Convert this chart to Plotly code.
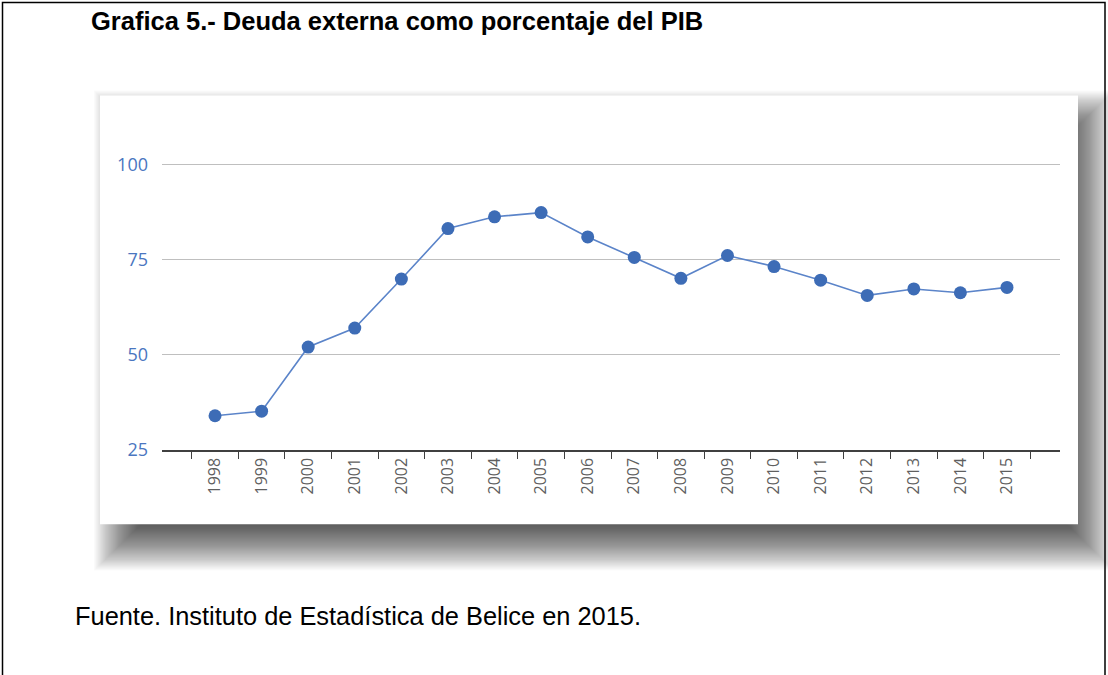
import plotly.graph_objects as go

years = ["1998", "1999", "2000", "2001", "2002", "2003", "2004", "2005", "2006",
         "2007", "2008", "2009", "2010", "2011", "2012", "2013", "2014", "2015"]
deuda_pib = [33.9, 35.1, 52.0, 57.0, 69.9, 83.2, 86.3, 87.4, 81.0,
             75.6, 70.1, 76.1, 73.2, 69.6, 65.6, 67.3, 66.3, 67.7]
y_ticks = [25, 50, 75, 100]

W, H = 1108, 675


def px(x):
    return x / W


def py(y):
    return 1 - y / H


fig = go.Figure()
fig.add_trace(go.Scatter(
    x=years, y=deuda_pib, mode="lines+markers",
    line=dict(color="#5b84c9", width=1.6),
    marker=dict(color="#3d6cb6", size=13),
    hoverinfo="x+y", showlegend=False,
))

shapes = []
# soft shadow (layered rectangles, smoother ramp)
n, b = 60, 32.0
sx0, sy0, sx1, sy1 = 126, 124, 1082, 548
for i in range(n):
    e = -b + 2 * b * i / (n - 1)
    shapes.append(dict(type="rect", xref="paper", yref="paper",
                       x0=px(sx0 - e), x1=px(sx1 + e),
                       y0=py(sy1 + e), y1=py(sy0 - e),
                       line=dict(width=0), fillcolor="rgba(0,0,0,0.019)",
                       layer="below"))
# white panel
shapes.append(dict(type="rect", xref="paper", yref="paper",
                   x0=px(100), x1=px(1078), y0=py(533), y1=py(97),
                   line=dict(width=0), fillcolor="white", layer="below"))
# outer frame
shapes.append(dict(type="rect", xref="paper", yref="paper",
                   x0=px(2.5), x1=px(1105), y0=py(700), y1=py(2.5),
                   line=dict(color="black", width=1.5), fillcolor="rgba(0,0,0,0)",
                   layer="below"))

fig.update_layout(
    width=W, height=H,
    margin=dict(l=0, r=0, t=0, b=0),
    paper_bgcolor="white",
    plot_bgcolor="rgba(0,0,0,0)",
    shapes=shapes,
    xaxis=dict(
        domain=[px(162), px(1060)],
        type="category",
        tickangle=-90,
        tickson="boundaries",
        ticks="outside", ticklen=8, tickcolor="#404040", tickwidth=1.2,
        showline=True, linecolor="#404040", linewidth=1.8,
        showgrid=False, zeroline=False,
        tickfont=dict(family="Open Sans", size=16, color="#5f5f5f"),
        fixedrange=True,
    ),
    yaxis=dict(
        domain=[py(457), py(128.9)],
        range=[25, 110],
        tickvals=y_ticks,
        showgrid=True, gridcolor="#bfbfbf", gridwidth=1.4,
        zeroline=False, showline=False, ticks="",
        ticklabelstandoff=13,
        tickfont=dict(family="Open Sans", size=18, color="#4a76c0"),
        fixedrange=True,
    ),
    annotations=[
        dict(text="<b>Grafica 5.- Deuda externa como porcentaje del PIB</b>",
             xref="paper", yref="paper", x=px(89), y=py(21),
             xanchor="left", yanchor="middle", showarrow=False,
             font=dict(family="Liberation Sans", size=25.5, color="black")),
        dict(text="Fuente. Instituto de Estadística de Belice en 2015.",
             xref="paper", yref="paper", x=px(73), y=py(626),
             xanchor="left", yanchor="middle", showarrow=False,
             font=dict(family="Liberation Sans", size=25.4, color="black")),
    ],
)

fig.write_html(
    "out.html",
    config={"responsive": False, "displayModeBar": False},
    post_script=(
        "document.documentElement.style.overflow='hidden';"
        "document.body.style.margin='0';"
        "document.body.style.overflow='hidden';"
        "document.body.style.height='675px';"
    ),
)
